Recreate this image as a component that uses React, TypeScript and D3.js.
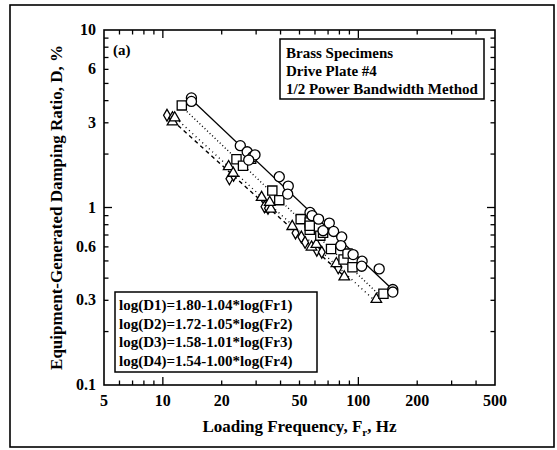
import React, { useEffect, useRef } from 'react';
import * as d3 from 'd3';

// series 1: circles, solid fit
const freqD1 = [14.0, 14.0, 24.9, 27.0, 28.8, 29.6, 27.5, 39.4, 43.8, 43.5, 56.6, 58, 62.6, 66, 71.0, 74.7, 82.2, 81.4, 94, 104.5, 104, 127.8, 150, 150];
const dampD1 = [4.14, 3.96, 2.23, 2.06, 1.93, 1.98, 1.85, 1.49, 1.32, 1.19, 0.937, 0.9, 0.86, 0.74, 0.817, 0.733, 0.682, 0.61, 0.543, 0.498, 0.467, 0.451, 0.345, 0.334];
// series 2: squares, dotted fit
const freqD2 = [12.5, 23.8, 25.7, 28.3, 36.3, 39.4, 50.7, 56.4, 56.4, 56.4, 63.9, 66, 72.5, 84, 88, 93.3, 134.4];
const dampD2 = [3.76, 1.87, 1.72, 1.88, 1.245, 1.10, 0.86, 0.824, 0.75, 0.79, 0.694, 0.72, 0.584, 0.509, 0.55, 0.461, 0.327];
// series 3: triangles, fine dotted fit
const freqD3 = [11.2, 11.5, 21.7, 22.9, 32.0, 35.7, 35.2, 45.9, 57.6, 61, 77.2, 84.7, 123.6];
const dampD3 = [3.04, 3.2, 1.70, 1.56, 1.14, 0.98, 1.07, 0.782, 0.599, 0.62, 0.483, 0.407, 0.304];
// series 4: diamonds, dashed fit
const freqD4 = [10.5, 11.2, 21.9, 23, 33.1, 34.5, 47.7, 51.1, 53.4, 61.3, 65, 78.9];
const dampD4 = [3.31, 3.21, 1.45, 1.52, 1.01, 0.99, 0.718, 0.682, 0.636, 0.574, 0.56, 0.457];

// fit lines log(D) = a - b*log(F), from the equations in the box
const fitIntercepts = [1.80, 1.72, 1.58, 1.54];
const fitSlopes = [1.04, 1.05, 1.01, 1.00];
const fitStart = [14, 12.5, 11.2, 10.5];
const fitEnd = [150, 134, 124, 90];
const fitDash = ['none', '1,2.5', '1,3.5', '4,3.5'];

const xTickLabels = [5, 10, 20, 50, 100, 200, 500];
const yTickLabels = [0.1, 0.3, 0.6, 1, 3, 6, 10];
const legendLines = ['Brass Specimens', 'Drive Plate #4', '1/2 Power Bandwidth Method'];
const equationLines = [
  'log(D1)=1.80-1.04*log(Fr1)',
  'log(D2)=1.72-1.05*log(Fr2)',
  'log(D3)=1.58-1.01*log(Fr3)',
  'log(D4)=1.54-1.00*log(Fr4)'
];

const FONT = '"Liberation Serif", "Times New Roman", serif';

export default function App() {
  const ref = useRef<SVGSVGElement>(null);

  useEffect(() => {
    document.body.style.margin = '0';
    const svg = d3.select(ref.current);
    svg.selectAll('*').remove();

    const left = 104, right = 495, top = 30, bottom = 385;
    const x = d3.scaleLog().domain([5, 500]).range([left, right]);
    const y = d3.scaleLog().domain([0.1, 10]).range([bottom, top]);

    // outer frame
    svg.append('rect')
      .attr('x', 10).attr('y', 5)
      .attr('width', 544).attr('height', 442)
      .attr('fill', 'none').attr('stroke', '#000').attr('stroke-width', 1.6);

    const g = svg.append('g');

    // ticks, inward on all four sides
    const isDecade = (v: number) => Math.abs(Math.log10(v) - Math.round(Math.log10(v))) < 1e-6;
    const xt = x.ticks().filter((v) => v > 5 && v < 500);
    const yt = y.ticks().filter((v) => v > 0.1 && v < 10);
    const tickLen = (v: number) => (isDecade(v) ? 8 : 4.5);

    xt.forEach((v) => {
      g.append('line').attr('x1', x(v)).attr('x2', x(v)).attr('y1', bottom).attr('y2', bottom - tickLen(v))
        .attr('stroke', '#000').attr('stroke-width', 1.3);
      g.append('line').attr('x1', x(v)).attr('x2', x(v)).attr('y1', top).attr('y2', top + tickLen(v))
        .attr('stroke', '#000').attr('stroke-width', 1.3);
    });
    yt.forEach((v) => {
      g.append('line').attr('x1', left).attr('x2', left + tickLen(v)).attr('y1', y(v)).attr('y2', y(v))
        .attr('stroke', '#000').attr('stroke-width', 1.3);
      g.append('line').attr('x1', right).attr('x2', right - tickLen(v)).attr('y1', y(v)).attr('y2', y(v))
        .attr('stroke', '#000').attr('stroke-width', 1.3);
    });

    g.append('rect')
      .attr('x', left).attr('y', top)
      .attr('width', right - left).attr('height', bottom - top)
      .attr('fill', 'none').attr('stroke', '#000').attr('stroke-width', 1.6);

    // tick labels
    g.append('g').selectAll('text')
      .data(xTickLabels)
      .enter().append('text')
      .attr('x', (d) => x(d))
      .attr('y', bottom + 21)
      .attr('text-anchor', 'middle')
      .style('font-family', FONT).style('font-weight', 'bold').style('font-size', '16px')
      .text((d) => String(d));

    g.append('g').selectAll('text')
      .data(yTickLabels)
      .enter().append('text')
      .attr('x', left - 8)
      .attr('y', (d) => y(d) + 5)
      .attr('text-anchor', 'end')
      .style('font-family', FONT).style('font-weight', 'bold').style('font-size', '16px')
      .text((d) => String(d));

    // axis titles
    const xl = g.append('text')
      .attr('x', (left + right) / 2)
      .attr('y', 432)
      .attr('text-anchor', 'middle')
      .style('font-family', FONT).style('font-weight', 'bold').style('font-size', '17px');
    xl.append('tspan').text('Loading Frequency, F');
    xl.append('tspan').attr('dy', 4).style('font-size', '11px').text('r');
    xl.append('tspan').attr('dy', -4).text(', Hz');

    g.append('text')
      .attr('transform', `translate(62, ${(top + bottom) / 2}) rotate(-90)`)
      .attr('text-anchor', 'middle')
      .style('font-family', FONT).style('font-weight', 'bold').style('font-size', '17px')
      .text('Equipment-Generated Damping Ratio, D, %');

    // fit lines
    fitIntercepts.forEach((a, i) => {
      const pts = [fitStart[i], fitEnd[i]]
        .map((f) => [x(f), y(Math.pow(10, a - fitSlopes[i] * Math.log10(f)))] as [number, number]);
      g.append('path')
        .attr('d', d3.line()(pts))
        .attr('fill', 'none')
        .attr('stroke', '#000')
        .attr('stroke-width', i === 0 ? 1.3 : 1.4)
        .attr('stroke-dasharray', fitDash[i]);
    });

    // markers
    const series = [
      { f: freqD1, d: dampD1, sym: d3.symbolCircle, size: 80 },
      { f: freqD2, d: dampD2, sym: d3.symbolSquare, size: 85 },
      { f: freqD3, d: dampD3, sym: d3.symbolTriangle, size: 48 },
      { f: freqD4, d: dampD4, sym: d3.symbolDiamond, size: 40 }
    ];
    series.slice().reverse().forEach((s) => {
      const path = d3.symbol().type(s.sym).size(s.size)();
      g.append('g').selectAll('path')
        .data(s.f.map((f, i) => [f, s.d[i]]))
        .enter().append('path')
        .attr('d', path)
        .attr('transform', (p) => `translate(${x(p[0])}, ${y(p[1])})`)
        .attr('fill', '#fff')
        .attr('stroke', '#000')
        .attr('stroke-width', 1.3);
    });

    // panel tag
    g.append('text')
      .attr('x', 113).attr('y', 55)
      .style('font-family', FONT).style('font-weight', 'bold').style('font-size', '15px')
      .text('(a)');

    // legend box
    g.append('rect')
      .attr('x', 280).attr('y', 39).attr('width', 204).attr('height', 60)
      .attr('fill', '#fff').attr('stroke', '#000').attr('stroke-width', 1.5);
    g.append('g').selectAll('text')
      .data(legendLines)
      .enter().append('text')
      .attr('x', 286)
      .attr('y', (d, i) => 58 + i * 18)
      .style('font-family', FONT).style('font-weight', 'bold').style('font-size', '15px')
      .text((d) => d);

    // equation box
    g.append('rect')
      .attr('x', 115).attr('y', 292).attr('width', 202).attr('height', 80)
      .attr('fill', '#fff').attr('stroke', '#000').attr('stroke-width', 1.5);
    g.append('g').selectAll('text')
      .data(equationLines)
      .enter().append('text')
      .attr('x', 119)
      .attr('y', (d, i) => 310 + i * 18.5)
      .style('font-family', FONT).style('font-weight', 'bold').style('font-size', '15px')
      .text((d) => d);
  }, []);

  return <svg ref={ref} width={557} height={450} style={{ display: 'block' }} />;
}
